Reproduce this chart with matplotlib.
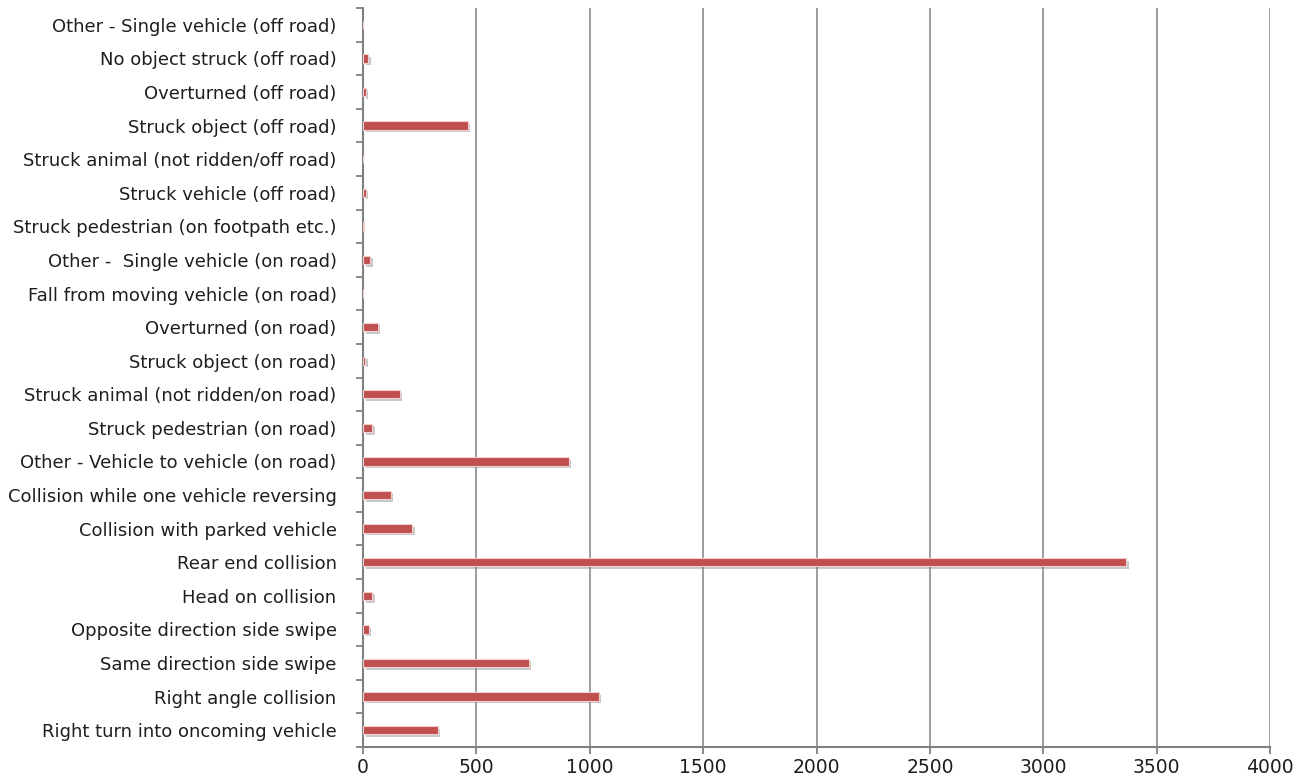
import matplotlib
matplotlib.use("Agg")
import matplotlib.pyplot as plt
import matplotlib.patheffects as pe
import numpy as np

# Crash types, listed bottom to top as they appear on the axis
categories = [
    "Right turn into oncoming vehicle",
    "Right angle collision",
    "Same direction side swipe",
    "Opposite direction side swipe",
    "Head on collision",
    "Rear end collision",
    "Collision with parked vehicle",
    "Collision while one vehicle reversing",
    "Other - Vehicle to vehicle (on road)",
    "Struck pedestrian (on road)",
    "Struck animal (not ridden/on road)",
    "Struck object (on road)",
    "Overturned (on road)",
    "Fall from moving vehicle (on road)",
    "Other -  Single vehicle (on road)",
    "Struck pedestrian (on footpath etc.)",
    "Struck vehicle (off road)",
    "Struck animal (not ridden/off road)",
    "Struck object (off road)",
    "Overturned (off road)",
    "No object struck (off road)",
    "Other - Single vehicle (off road)",
]
counts = [330, 1040, 730, 25, 41, 3365, 217, 123, 908, 41, 162, 10,
          66, 2, 31, 3, 13, 0, 462, 13, 23, 0]

xticks = [0, 500, 1000, 1500, 2000, 2500, 3000, 3500, 4000]

plt.rcParams['font.family'] = ['DejaVu Sans']

fig = plt.figure(figsize=(13.08, 7.82), dpi=100)
ax = fig.add_axes([363 / 1308, 35 / 782, (1270 - 363) / 1308, (747 - 8) / 782])

y = np.arange(len(categories))
bars = ax.barh(y, counts, height=0.25, color='#c0504d', edgecolor='#f2cfcf',
               linewidth=0.8, zorder=3)
for b in bars:
    b.set_path_effects([
        pe.SimplePatchShadow(offset=(1.8, -1.8), shadow_rgbFace='#777777', alpha=0.4),
        pe.Normal(),
    ])

ax.set_xlim(0, 4000)
ax.set_ylim(-0.5, len(categories) - 0.5)

ax.set_xticks(xticks)
ax.set_xticklabels([str(t) for t in xticks])
ax.set_yticks(y)
ax.set_yticklabels(categories)
ax.set_yticks(np.arange(-0.5, len(categories)), minor=True)

ax.xaxis.grid(True, color='#8c8c8c', linewidth=1.2, zorder=0)
ax.yaxis.grid(False)
ax.set_axisbelow(True)

for side in ('top', 'right'):
    ax.spines[side].set_visible(False)
for side in ('left', 'bottom'):
    ax.spines[side].set_color('#808080')
    ax.spines[side].set_linewidth(1.5)

ax.tick_params(axis='y', which='major', length=0, pad=19, labelsize=13,
               labelcolor='#1e1e1e')
ax.tick_params(axis='y', which='minor', length=5, width=1.3, color='#808080')
ax.tick_params(axis='x', which='major', length=5, width=1.3, color='#808080',
               pad=3, labelsize=13.5, labelcolor='#1e1e1e')

fig.savefig('out.png', dpi=100, facecolor='white')
